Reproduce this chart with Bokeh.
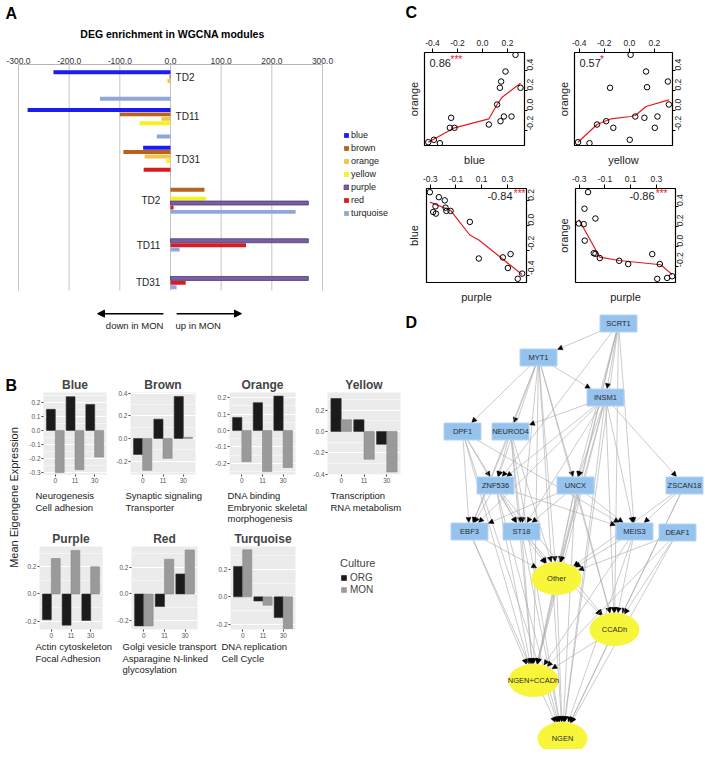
import math
import numpy as np
from bokeh.plotting import figure
from bokeh.layouts import row, column
from bokeh.models import (Range1d, LinearAxis, FixedTicker, PrintfTickFormatter,
                          Legend, LegendItem, Label, Arrow, NormalHead, ColumnDataSource, Spacer)
from bokeh.core.properties import value
from bokeh.embed import file_html
from bokeh.resources import INLINE

FONT = "Liberation Sans"

# ======================= DATA =======================
# Panel A: DEG enrichment in WGCNA modules (negative = down in MON)
a_modules = ["blue", "brown", "orange", "yellow", "purple", "red", "turquoise"]
a_groups = ["TD2", "TD11", "TD31", "TD2", "TD11", "TD31"]
a_blue = [-231, -282, -54, 0, 0, 0]
a_brown = [-2, -100, -93, 67, 0, 0]
a_orange = [-6, -18, -51, 0, 0, 0]
a_yellow = [0, -61, -8, 70, 0, 0]
a_purple = [0, 0, 0, 272, 272, 272]
a_red = [0, 0, -53, 6, 149, 30]
a_turquoise = [-139, -27, -1, 247, 18, 12]
a_ticks = [-300, -200, -100, 0, 100, 200, 300]

# Panel B: mean eigengene expression (ORG, MON) at days 0, 11, 30
b_times = ["0", "11", "30"]
b_blue_org = [0.15, 0.24, 0.185]
b_blue_mon = [-0.30, -0.28, -0.19]
b_brown_org = [-0.14, 0.17, 0.37]
b_brown_mon = [-0.28, -0.175, 0.01]
b_orange_org = [0.08, 0.17, 0.21]
b_orange_mon = [-0.19, -0.25, -0.225]
b_yellow_org = [0.31, 0.11, -0.12]
b_yellow_mon = [0.11, -0.26, -0.38]
b_purple_org = [-0.19, -0.23, -0.195]
b_purple_mon = [0.26, 0.32, 0.20]
b_red_org = [-0.24, -0.095, 0.15]
b_red_mon = [-0.24, 0.26, 0.33]
b_turq_org = [0.22, -0.03, -0.15]
b_turq_mon = [0.34, -0.06, -0.23]
b_desc_blue = ["Neurogenesis", "Cell adhesion"]
b_desc_brown = ["Synaptic signaling", "Transporter"]
b_desc_orange = ["DNA binding", "Embryonic skeletal", "morphogenesis"]
b_desc_yellow = ["Transcription", "RNA metabolism"]
b_desc_purple = ["Actin cytoskeleton", "Focal Adhesion"]
b_desc_red = ["Golgi vesicle transport", "Asparagine N-linked", "glycosylation"]
b_desc_turq = ["DNA replication", "Cell Cycle"]

# Panel C: module eigengene scatter plots
c_tl_blue = [-0.434, -0.389, -0.341, -0.251, -0.261, -0.224, 0.051, 0.117, 0.139, 0.149, 0.184, 0.264, 0.304, 0.144, 0.171, 0.232]
c_tl_orange = [-0.317, -0.293, -0.327, -0.073, -0.173, -0.173, -0.14, 0.06, 0.227, 0.29, 0.39, 0.557, 0.227, -0.107, -0.06, -0.06]
c_tl_fit_x = [-0.434, -0.224, 0.051, 0.117, 0.157, 0.304]
c_tl_fit_y = [-0.317, -0.173, -0.083, 0.06, 0.133, 0.273]

c_tr_yellow = [-0.409, -0.318, -0.258, -0.185, -0.128, -0.154, 0.01, 0.003, 0.047, 0.133, 0.141, 0.12, 0.224, 0.203, 0.307, 0.315]
c_tr_orange = [-0.317, -0.327, -0.14, -0.107, -0.173, 0.227, 0.557, -0.293, -0.06, 0.39, 0.233, -0.073, -0.06, -0.173, 0.29, 0.06]
c_tr_fit_x = [-0.409, -0.258, -0.146, 0.01, 0.047, 0.133, 0.315]
c_tr_fit_y = [-0.317, -0.14, -0.083, -0.06, -0.05, 0.04, 0.107]

c_bl_purple = [-0.303, -0.233, -0.187, -0.259, -0.277, -0.256, -0.181, -0.174, -0.142, 0.008, 0.078, 0.265, 0.325, 0.304, 0.381, 0.415]
c_bl_blue = [0.27, 0.23, 0.204, 0.156, 0.11, 0.097, 0.145, 0.119, 0.119, 0.03, -0.266, -0.257, -0.23, -0.343, -0.43, -0.388]
c_bl_fit_x = [-0.303, -0.142, 0.008, 0.078, 0.415]
c_bl_fit_y = [0.19, 0.124, -0.076, -0.116, -0.396]

c_br_purple = [-0.303, -0.265, -0.231, -0.259, -0.257, -0.174, -0.187, -0.174, -0.14, 0.011, 0.081, 0.268, 0.327, 0.307, 0.384, 0.423]
c_br_orange = [0.228, 0.221, 0.537, 0.374, 0.059, 0.277, -0.065, -0.071, -0.113, -0.14, -0.172, -0.074, -0.172, -0.318, -0.309, -0.292]
c_br_fit_x = [-0.303, -0.14, 0.011, 0.335, 0.423]
c_br_fit_y = [0.267, -0.104, -0.137, -0.179, -0.276]

c_corr = ["0.86", "0.57", "-0.84", "-0.86"]
c_stars = ["***", "*", "***", "***"]

# Panel D: regulatory network (node layout and edges)
d_tfs = ["SCRT1", "MYT1", "INSM1", "DPF1", "NEUROD4", "ZNF536", "UNCX", "ZSCAN18",
         "EBF3", "ST18", "MEIS3", "DEAF1"]
d_tf_x = [618, 538, 605, 462, 510, 495, 575, 684, 469, 521, 634, 677]
d_tf_y = [323, 357, 397, 431, 431, 485, 485, 485, 531, 531, 531, 532]
d_sets = ["Other", "CCADh", "NGEN+CCADh", "NGEN"]
d_set_x = [556, 614, 533, 562]
d_set_y = [578, 629, 680, 738]
d_edges = [
    ("SCRT1", "MYT1"), ("SCRT1", "INSM1"), ("SCRT1", "ZNF536"), ("SCRT1", "UNCX"), ("SCRT1", "MEIS3"),
    ("SCRT1", "Other"), ("SCRT1", "CCADh"), ("SCRT1", "NGEN+CCADh"), ("SCRT1", "NGEN"),
    ("MYT1", "DPF1"), ("MYT1", "NEUROD4"), ("MYT1", "INSM1"), ("MYT1", "ZNF536"), ("MYT1", "UNCX"),
    ("MYT1", "ST18"), ("MYT1", "EBF3"), ("MYT1", "Other"), ("MYT1", "CCADh"), ("MYT1", "NGEN+CCADh"), ("MYT1", "NGEN"),
    ("INSM1", "NEUROD4"), ("INSM1", "UNCX"), ("INSM1", "ZSCAN18"), ("INSM1", "ST18"), ("INSM1", "EBF3"),
    ("INSM1", "MEIS3"), ("INSM1", "ZNF536"), ("INSM1", "Other"), ("INSM1", "CCADh"), ("INSM1", "NGEN+CCADh"), ("INSM1", "NGEN"),
    ("DPF1", "ZNF536"), ("DPF1", "EBF3"), ("DPF1", "ST18"), ("DPF1", "MEIS3"), ("DPF1", "NGEN+CCADh"), ("DPF1", "NGEN"),
    ("NEUROD4", "ZNF536"), ("NEUROD4", "EBF3"), ("NEUROD4", "ST18"), ("NEUROD4", "Other"), ("NEUROD4", "NGEN+CCADh"), ("NEUROD4", "NGEN"),
    ("ZNF536", "EBF3"), ("ZNF536", "ST18"), ("ZNF536", "MEIS3"), ("ZNF536", "Other"), ("ZNF536", "CCADh"),
    ("ZNF536", "NGEN+CCADh"), ("ZNF536", "NGEN"),
    ("UNCX", "EBF3"), ("UNCX", "ST18"), ("UNCX", "MEIS3"), ("UNCX", "Other"), ("UNCX", "CCADh"),
    ("UNCX", "NGEN+CCADh"), ("UNCX", "NGEN"),
    ("ZSCAN18", "MEIS3"), ("ZSCAN18", "Other"), ("ZSCAN18", "CCADh"), ("ZSCAN18", "NGEN"),
    ("EBF3", "Other"), ("EBF3", "NGEN+CCADh"), ("EBF3", "NGEN"),
    ("ST18", "Other"), ("ST18", "CCADh"), ("ST18", "NGEN+CCADh"), ("ST18", "NGEN"),
    ("MEIS3", "Other"), ("MEIS3", "CCADh"), ("MEIS3", "NGEN+CCADh"), ("MEIS3", "NGEN"),
    ("DEAF1", "Other"), ("DEAF1", "CCADh"), ("DEAF1", "NGEN+CCADh"), ("DEAF1", "NGEN"),
    ("Other", "NGEN+CCADh"), ("Other", "NGEN"), ("CCADh", "NGEN+CCADh"), ("CCADh", "NGEN"),
]

# ======================= STYLE =======================
a_fill = ["#1c1cf2", "#b8621f", "#eec64a", "#f6f31c", "#7b5da6", "#d81c1f", "#8fa7dd"]
a_edge = [None, None, None, None, "#4b3b70", None, None]
a_label_dy = [-0.21, -0.19, -0.05, 0.05, 0.24, 0.23]
A_BAR_STEP = 0.117
RED = "#e41a1c"
TXT = "#222222"


def blank(w, h, xr, yr, left=0, right=0, top=0, bottom=0):
    p = figure(width=w, height=h, x_range=Range1d(*xr), y_range=Range1d(*yr),
               x_axis_location=None, y_axis_location=None, min_border=0,
               min_border_left=left, min_border_right=right, min_border_top=top,
               min_border_bottom=bottom, output_backend="svg", toolbar_location=None)
    p.outline_line_color = None
    p.grid.grid_line_color = None
    p.border_fill_color = "white"
    return p


def lab(p, x, y, text, size, align="left", bold=False, color="black", angle=0):
    p.add_layout(Label(x=x, y=y, text=text, text_align=align, text_baseline="middle",
                       text_font=FONT, text_font_size=size, angle=angle, text_color=color,
                       text_font_style="bold" if bold else "normal"))


# ======================= PANEL A =======================
hA = blank(400, 46, (4, 404), (48, 2))
lab(hA, 5, 13, "A", "16px", bold=True)
lab(hA, 172, 33, "DEG enrichment in WGCNA modules", "10.5px", align="center", bold=True)

# frame spans page x 4..404; 100 units = 50.67 px, zero at page x 170
pA = figure(width=400, height=287, x_range=Range1d(-327.6, 461.8), y_range=Range1d(6.63, -0.557),
            x_axis_location="above", y_axis_location=None,
            min_border_left=0, min_border_right=0, min_border_top=16, min_border_bottom=0,
            output_backend="svg", toolbar_location=None)
pA.outline_line_color = None
pA.grid.grid_line_color = None
ax = pA.xaxis[0]
ax.ticker = FixedTicker(ticks=a_ticks)
ax.formatter = PrintfTickFormatter(format="%.1f")
ax.bounds = (min(a_ticks), max(a_ticks))
ax.axis_line_color = "#b5b5b5"
ax.major_tick_out = 0
ax.major_tick_in = 0
ax.minor_tick_out = 0
ax.minor_tick_in = 0
ax.major_label_text_font = FONT
ax.major_label_text_font_size = "8.5px"
ax.major_label_text_color = "#333333"
ax.major_label_standoff = 1

n_groups = len(a_groups)
pA.segment(x0=a_ticks, y0=[-0.557] * len(a_ticks), x1=a_ticks, y1=[n_groups - 0.56] * len(a_ticks),
           line_color="#c4c4c4", line_width=1)

a_series = [a_blue, a_brown, a_orange, a_yellow, a_purple, a_red, a_turquoise]
a_rend = []
for i, (vals, fc, ec) in enumerate(zip(a_series, a_fill, a_edge)):
    keep = [g for g, v in enumerate(vals) if v != 0]
    src = ColumnDataSource(dict(
        y=[g + (i - 3) * A_BAR_STEP for g in keep],
        left=[min(0, vals[g]) for g in keep],
        right=[max(0, vals[g]) for g in keep]))
    r = pA.hbar(y="y", left="left", right="right", height=0.105, source=src,
                fill_color=fc, line_color=ec, line_width=0.8)
    a_rend.append(r)

down = [0, 1, 2]
up = [3, 4, 5]
pA.text(x=[10] * len(down), y=[g + a_label_dy[g] for g in down], text=[a_groups[g] for g in down],
        text_align="left", text_baseline="middle", text_font=value(FONT), text_font_size="10px",
        text_color=TXT)
pA.text(x=[-20] * len(up), y=[g + a_label_dy[g] for g in up], text=[a_groups[g] for g in up],
        text_align="right", text_baseline="middle", text_font=value(FONT), text_font_size="10px",
        text_color=TXT)

legA = Legend(items=[LegendItem(label=m, renderers=[r]) for m, r in zip(a_modules, a_rend)],
              location=(339, 116), glyph_width=6, glyph_height=6, label_height=12, spacing=1,
              padding=0, margin=0, border_line_color=None, background_fill_alpha=0,
              label_text_font=FONT, label_text_font_size="9px", label_text_color=TXT,
              label_standoff=2)
pA.add_layout(legA)

pA.add_layout(Arrow(end=NormalHead(size=7, fill_color="black", line_color="black"),
                    x_start=-14, y_start=6.05, x_end=-144, y_end=6.05, line_width=1.5))
pA.add_layout(Arrow(end=NormalHead(size=7, fill_color="black", line_color="black"),
                    x_start=12, y_start=6.05, x_end=140, y_end=6.05, line_width=1.5))
lab(pA, -14, 6.37, "down in MON", "9.5px", align="right", color=TXT)
lab(pA, 10, 6.37, "up in MON", "9.5px", color=TXT)


# ======================= PANEL B =======================
def b_panel(name, org, mon, yr, yticks, yminor, w, h, left, right, top, bottom):
    p = figure(width=w, height=h, x_range=Range1d(0.4, len(b_times) + 0.6), y_range=Range1d(*yr),
               min_border_left=left, min_border_right=right, min_border_top=top,
               min_border_bottom=bottom, output_backend="svg", toolbar_location=None, title=name)
    p.border_fill_color = "white"
    p.background_fill_color = "#ebebeb"
    p.outline_line_color = None
    p.title.align = "center"
    p.title.text_font = FONT
    p.title.text_font_size = "12px"
    p.title.text_font_style = "bold"
    p.title.standoff = 2
    xs = np.arange(1, len(b_times) + 1)
    p.vbar(x=xs - 0.225, top=org, bottom=0, width=0.45, fill_color="#1b1b1b", line_color="#333333",
           line_width=0.6)
    p.vbar(x=xs + 0.225, top=mon, bottom=0, width=0.45, fill_color="#9a9a9a", line_color="#8a8a8a",
           line_width=0.6)
    p.xaxis.ticker = FixedTicker(ticks=list(xs))
    p.xaxis.major_label_overrides = {int(i): t for i, t in zip(xs, b_times)}
    p.yaxis.ticker = FixedTicker(ticks=yticks, minor_ticks=yminor)
    p.yaxis.formatter = PrintfTickFormatter(format="%.1f")
    for a in (p.xaxis, p.yaxis):
        a.axis_line_color = None
        a.major_tick_out = 2
        a.major_tick_in = 0
        a.minor_tick_out = 0
        a.minor_tick_in = 0
        a.major_tick_line_color = "#444444"
        a.major_label_text_font = FONT
        a.major_label_text_font_size = "6.5px"
        a.major_label_text_color = "#555555"
        a.major_label_standoff = 1
    p.xgrid.grid_line_color = None
    p.ygrid.grid_line_color = "white"
    p.ygrid.grid_line_width = 1
    p.ygrid.minor_grid_line_color = "white"
    p.ygrid.minor_grid_line_width = 0.5
    return p


b1 = b_panel("Blue", b_blue_org, b_blue_mon, (-0.314, 0.27), [-0.3, -0.2, -0.1, 0.0, 0.1, 0.2],
             [-0.25, -0.15, -0.05, 0.05, 0.15, 0.25], 91, 150, 21, 7, 57, 11)
b2 = b_panel("Brown", b_brown_org, b_brown_mon, (-0.317, 0.405), [-0.2, 0.0, 0.2, 0.4],
             [-0.3, -0.1, 0.1, 0.3], 97, 150, 14, 15, 57, 11)
b3 = b_panel("Orange", b_orange_org, b_orange_mon, (-0.268, 0.232), [-0.2, -0.1, 0.0, 0.1, 0.2],
             [-0.25, -0.15, -0.05, 0.05, 0.15], 96, 150, 19, 11, 57, 11)
b4 = b_panel("Yellow", b_yellow_org, b_yellow_mon, (-0.404, 0.366), [-0.4, -0.2, 0.0, 0.2],
             [-0.3, -0.1, 0.1, 0.3], 98, 150, 21, 4, 57, 11)
b5 = b_panel("Purple", b_purple_org, b_purple_mon, (-0.262, 0.349), [-0.2, 0.0, 0.2],
             [-0.1, 0.1, 0.3], 91, 113, 17, 11, 19, 10)
b6 = b_panel("Red", b_red_org, b_red_mon, (-0.267, 0.356), [-0.2, 0.0, 0.2],
             [-0.1, 0.1, 0.3], 97, 113, 18, 13, 19, 10)
b7 = b_panel("Turquoise", b_turq_org, b_turq_mon, (-0.236, 0.364), [-0.2, 0.0, 0.2],
             [-0.1, 0.1, 0.3], 91, 113, 20, 6, 19, 10)

# description rows (text only), page-pixel coordinates
d1 = blank(382, 42, (22, 404), (527, 485))
for x0, lines in zip([35, 125, 227, 330], [b_desc_blue, b_desc_brown, b_desc_orange, b_desc_yellow]):
    for k, t in enumerate(lines):
        lab(d1, x0, 495 + 11.5 * k, t, "9.5px", color=TXT)
d2 = blank(382, 40, (22, 404), (680, 640))
for x0, lines in zip([35, 122, 221], [b_desc_purple, b_desc_red, b_desc_turq]):
    for k, t in enumerate(lines):
        lab(d2, x0, 646 + 11.5 * k, t, "9.5px", color=TXT)

# legend box: frame aligned with the row's frames (top 19, bottom 10)
pL = blank(103, 113, (0, 1), (0, 1), top=19, bottom=10)
r_org = pL.vbar(x=[-5], top=[-5], width=0.1, fill_color="#1b1b1b", line_color=None)
r_mon = pL.vbar(x=[-5], top=[-5], width=0.1, fill_color="#9a9a9a", line_color=None)
legB = Legend(items=[LegendItem(label="ORG", renderers=[r_org]), LegendItem(label="MON", renderers=[r_mon])],
              title="Culture", location=(39, 34), glyph_width=7, glyph_height=7, label_height=10,
              spacing=1, padding=0, margin=0, border_line_color=None, background_fill_alpha=0,
              label_text_font=FONT, label_text_font_size="10px", label_standoff=3,
              title_text_font=FONT, title_text_font_size="11px", title_text_font_style="normal",
              title_standoff=3)
pL.add_layout(legB)

pS = blank(18, 345, (4, 22), (680, 335))
lab(pS, 5, 385, "B", "16px", bold=True)
lab(pS, 13, 497, "Mean Eigengene Expression", "11px", align="center", color=TXT, angle=math.pi / 2)


# ======================= PANEL C =======================
def c_panel(w, h, left, right, top, bottom, xr, yr, xticks, yticks, xs, ys, fx, fy,
            xlabel, ylabel, xl_st, yl_st, corr, stars, corner):
    p = figure(width=w, height=h, x_range=Range1d(*xr), y_range=Range1d(*yr),
               x_axis_location=None, y_axis_location=None,
               min_border_left=left, min_border_right=right, min_border_top=top,
               min_border_bottom=bottom, output_backend="svg", toolbar_location=None)
    p.border_fill_color = "white"
    p.grid.grid_line_color = None
    p.outline_line_color = "black"
    p.outline_line_width = 1.2
    tick_kw = dict(axis_line_color=None, major_tick_in=0, minor_tick_out=0, minor_tick_in=0,
                   major_tick_line_color="black", major_label_text_font=FONT,
                   major_label_text_font_size="8.5px", major_label_text_color=TXT)
    p.add_layout(LinearAxis(ticker=FixedTicker(ticks=xticks), formatter=PrintfTickFormatter(format="%.1f"),
                            major_tick_out=4, major_label_standoff=3, **tick_kw), "above")
    p.add_layout(LinearAxis(ticker=FixedTicker(ticks=yticks), formatter=PrintfTickFormatter(format="%.1f"),
                            major_tick_out=3, major_label_standoff=2, major_label_orientation=math.pi / 2,
                            **tick_kw), "right")
    lab_kw = dict(ticker=FixedTicker(ticks=[]), axis_line_color=None, major_tick_out=0, major_tick_in=0,
                  minor_tick_out=0, minor_tick_in=0, axis_label_text_font=FONT,
                  axis_label_text_font_size="11px", axis_label_text_font_style="normal",
                  axis_label_text_color=TXT)
    p.add_layout(LinearAxis(axis_label=xlabel, axis_label_standoff=xl_st, **lab_kw), "below")
    p.add_layout(LinearAxis(axis_label=ylabel, axis_label_standoff=yl_st, **lab_kw), "left")
    p.line(fx, fy, line_color=RED, line_width=1.2)
    p.scatter(xs, ys, marker="circle", size=5.5, fill_color=None, line_color="black", line_width=1)
    fw = w - left - right
    fh = h - top - bottom
    ux = (xr[1] - xr[0]) / fw
    uy = (yr[1] - yr[0]) / fh
    if corner == "left":
        lab(p, xr[0] + 5 * ux, yr[1] - 10 * uy, corr, "11px", color=TXT)
        lab(p, xr[0] + 26 * ux, yr[1] - 7 * uy, stars, "10px", color=RED)
    else:
        lab(p, xr[1] - corner * ux, yr[1] - 8 * uy, corr, "11px", align="right", color=TXT)
        lab(p, xr[1] - (corner - 13) * ux, yr[1] - 5 * uy, stars, "10px", align="right", color=RED)
    return p


hC = blank(300, 26, (402, 702), (28, 2))
lab(hC, 403, 12, "C", "16px", bold=True)
c1 = c_panel(150, 140, 20, 30, 24, 23, (-0.464, 0.336), (-0.35, 0.58), [-0.4, -0.2, 0.0, 0.2],
             [-0.2, 0.0, 0.2, 0.4], c_tl_blue, c_tl_orange, c_tl_fit_x, c_tl_fit_y,
             "blue", "orange", 8, 5, c_corr[0], c_stars[0], "left")
c2 = c_panel(143, 140, 18, 25, 24, 23, (-0.4375, 0.344), (-0.35, 0.58), [-0.4, -0.2, 0.0, 0.2],
             [-0.2, 0.0, 0.2, 0.4], c_tr_yellow, c_tr_orange, c_tr_fit_x, c_tr_fit_y,
             "yellow", "orange", 8, 5, c_corr[1], c_stars[1], "left")
c3 = c_panel(150, 137, 22, 28, 20, 22, (-0.329, 0.449), (-0.46, 0.30), [-0.3, -0.1, 0.1, 0.3],
             [-0.4, -0.2, 0.0, 0.2], c_bl_purple, c_bl_blue, c_bl_fit_x, c_bl_fit_y,
             "purple", "blue", 8, 7, c_corr[2], c_stars[2], 14)
c4 = c_panel(143, 137, 21, 22, 20, 22, (-0.329, 0.449), (-0.354, 0.573), [-0.3, -0.1, 0.1, 0.3],
             [-0.2, 0.0, 0.2, 0.4], c_br_purple, c_br_orange, c_br_fit_x, c_br_fit_y,
             "purple", "orange", 8, 6, c_corr[3], c_stars[3], 21)

# ======================= PANEL D =======================
pD = blank(300, 444, (404, 704), (749, 305))
RECT_W, RECT_H = 37, 17
ELL_W, ELL_H = 50, 33
pos = {n: (x, y, "rect") for n, x, y in zip(d_tfs, d_tf_x, d_tf_y)}
pos.update({n: (x, y, "ell") for n, x, y in zip(d_sets, d_set_x, d_set_y)})


def boundary(x0, y0, x1, y1, shape):
    dx, dy = x1 - x0, y1 - y0
    if shape == "rect":
        hw, hh = RECT_W / 2 + 0.5, RECT_H / 2 + 0.5
        t = min(hw / abs(dx) if dx else 1e9, hh / abs(dy) if dy else 1e9)
    else:
        hw, hh = ELL_W / 2 + 0.5, ELL_H / 2 + 0.5
        t = 1.0 / math.sqrt((dx / hw) ** 2 + (dy / hh) ** 2)
    return x1 - t * dx, y1 - t * dy


ex0, ey0, ex1, ey1 = [], [], [], []
for s, t in d_edges:
    sx, sy, _ = pos[s]
    tx, ty, shp = pos[t]
    bx, by = boundary(sx, sy, tx, ty, shp)
    ex0.append(sx); ey0.append(sy); ex1.append(bx); ey1.append(by)
esrc = ColumnDataSource(dict(x0=ex0, y0=ey0, x1=ex1, y1=ey1))
pD.add_layout(Arrow(source=esrc, x_start="x0", y_start="y0", x_end="x1", y_end="y1",
                    line_color="#a8a8a8", line_width=0.6, level="underlay",
                    end=NormalHead(size=5, fill_color="black", line_color="black", line_width=0.5)))
pD.rect(x=d_tf_x, y=d_tf_y, width=RECT_W, height=RECT_H, fill_color="#95c3ee", line_color="#b4d4f4",
        line_width=1)
pD.text(x=d_tf_x, y=d_tf_y, text=d_tfs, text_align="center", text_baseline="middle",
        text_font=value(FONT), text_font_size="7.5px", text_color="#2a2a2a")
pD.ellipse(x=d_set_x, y=d_set_y, width=ELL_W, height=ELL_H, fill_color="#f8f63a", line_color=None)
pD.text(x=d_set_x, y=d_set_y, text=d_sets, text_align="center", text_baseline="middle",
        text_font=value(FONT), text_font_size="7.5px", text_color="#2a2a2a")
lab(pD, 405, 322, "D", "16px", bold=True)

# ======================= LAYOUT =======================
left_col = column(hA, pA, row(pS, column(row(b1, b2, b3, b4), d1, row(b5, b6, b7, pL), d2)))
right_col = column(hC, row(c1, c2), row(c3, c4), pD)
layout = column(Spacer(width=700, height=2), row(Spacer(width=4, height=10), left_col, right_col))

open("out.html", "w").write(file_html(layout, INLINE))
